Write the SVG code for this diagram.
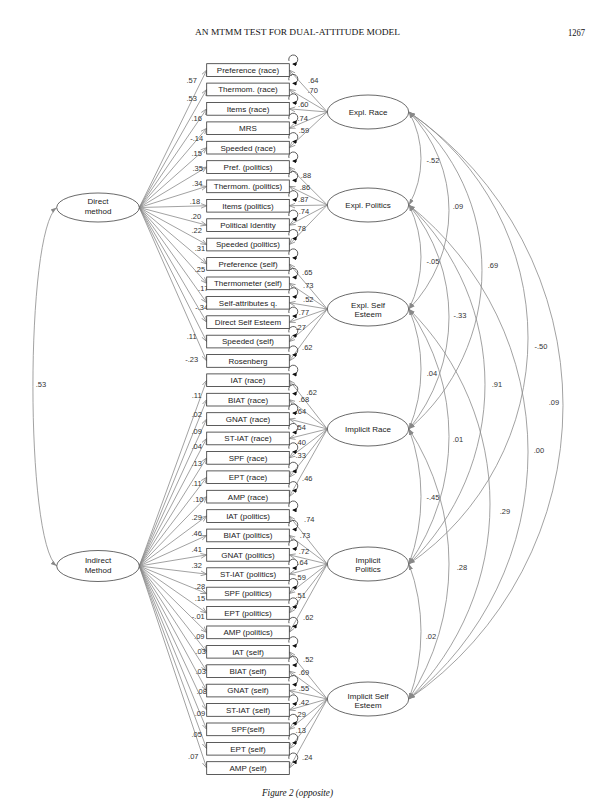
<svg xmlns="http://www.w3.org/2000/svg" xmlns:xlink="http://www.w3.org/1999/xlink" width="616" height="809" viewBox="0 0 616 809">
<style>
.bx{fill:#fff;stroke:#333;stroke-width:0.8}
.el{fill:#fff;stroke:#444;stroke-width:0.8}
.t{font-family:"Liberation Sans",Arial,sans-serif;font-size:8px;fill:#222;text-anchor:middle}
.n{font-family:"Liberation Sans",Arial,sans-serif;font-size:7.5px;fill:#333;text-anchor:middle}
.ld{stroke:#8a8a8a;stroke-width:0.8;fill:none;marker-end:url(#oa)}
.cr{stroke:#8a8a8a;stroke-width:0.8;fill:none;marker-start:url(#fs);marker-end:url(#fe)}
.lp{stroke:#333;stroke-width:0.8;fill:none;marker-end:url(#la)}
.hd{font-family:"Liberation Serif","Times New Roman",serif;fill:#111}
</style>
<defs>
<marker id="oa" viewBox="0 0 10 10" refX="10" refY="5" markerWidth="6" markerHeight="6" markerUnits="userSpaceOnUse" orient="auto"><path d="M0,1 L10,5 L0,9" fill="none" stroke="#888" stroke-width="1.3"/></marker>
<marker id="fe" viewBox="0 0 10 10" refX="10" refY="5" markerWidth="6" markerHeight="6" markerUnits="userSpaceOnUse" orient="auto"><path d="M0,1.5 L10,5 L0,8.5 z" fill="#888"/></marker>
<marker id="fs" viewBox="0 0 10 10" refX="10" refY="5" markerWidth="6" markerHeight="6" markerUnits="userSpaceOnUse" orient="auto-start-reverse"><path d="M0,1.5 L10,5 L0,8.5 z" fill="#888"/></marker>
<marker id="la" viewBox="0 0 10 10" refX="8" refY="5" markerWidth="4.5" markerHeight="4.5" markerUnits="userSpaceOnUse" orient="auto"><path d="M0,0 L10,5 L0,10 z" fill="#111"/></marker>
<path id="loop" class="lp" d="M-4.3,1.4 A4.5,4.5 0 1 1 -0.3,4.5"/>
</defs>

<text class="hd" x="195" y="35" font-size="9" textLength="205" lengthAdjust="spacingAndGlyphs">AN MTMM TEST FOR DUAL-ATTITUDE MODEL</text>
<text class="hd" x="568" y="36" font-size="10.5" textLength="17" lengthAdjust="spacingAndGlyphs">1267</text>
<text class="hd" x="262" y="796" font-size="9.5" font-style="italic" textLength="71" lengthAdjust="spacingAndGlyphs">Figure 2 (opposite)</text>

<g id="connectors">
<!-- method correlation -->
<path class="cr" d="M56.7,207.5 C25,232 25,541 56.7,566"/>
<!-- Direct method loadings -->
<path class="ld" d="M139.3,207.5 L206.7,70.05"/>
<path class="ld" d="M139.3,207.5 L206.7,89.45"/>
<path class="ld" d="M139.3,207.5 L206.7,108.85"/>
<path class="ld" d="M139.3,207.5 L206.7,128.25"/>
<path class="ld" d="M139.3,207.5 L206.7,147.65"/>
<path class="ld" d="M139.3,207.5 L206.7,167.05"/>
<path class="ld" d="M139.3,207.5 L206.7,186.35"/>
<path class="ld" d="M139.3,207.5 L206.7,205.75"/>
<path class="ld" d="M139.3,207.5 L206.7,225.15"/>
<path class="ld" d="M139.3,207.5 L206.7,244.55"/>
<path class="ld" d="M139.3,207.5 L206.7,263.95"/>
<path class="ld" d="M139.3,207.5 L206.7,283.35"/>
<path class="ld" d="M139.3,207.5 L206.7,302.75"/>
<path class="ld" d="M139.3,207.5 L206.7,322.15"/>
<path class="ld" d="M139.3,207.5 L206.7,341.55"/>
<path class="ld" d="M139.3,207.5 L206.7,360.95"/>
<!-- Indirect method loadings -->
<path class="ld" d="M139.3,566 L206.7,380.25"/>
<path class="ld" d="M139.3,566 L206.7,399.65"/>
<path class="ld" d="M139.3,566 L206.7,419.05"/>
<path class="ld" d="M139.3,566 L206.7,438.45"/>
<path class="ld" d="M139.3,566 L206.7,457.85"/>
<path class="ld" d="M139.3,566 L206.7,477.25"/>
<path class="ld" d="M139.3,566 L206.7,496.65"/>
<path class="ld" d="M139.3,566 L206.7,516.05"/>
<path class="ld" d="M139.3,566 L206.7,535.45"/>
<path class="ld" d="M139.3,566 L206.7,554.85"/>
<path class="ld" d="M139.3,566 L206.7,574.15"/>
<path class="ld" d="M139.3,566 L206.7,593.55"/>
<path class="ld" d="M139.3,566 L206.7,612.95"/>
<path class="ld" d="M139.3,566 L206.7,632.35"/>
<path class="ld" d="M139.3,566 L206.7,651.75"/>
<path class="ld" d="M139.3,566 L206.7,671.15"/>
<path class="ld" d="M139.3,566 L206.7,690.55"/>
<path class="ld" d="M139.3,566 L206.7,709.95"/>
<path class="ld" d="M139.3,566 L206.7,729.35"/>
<path class="ld" d="M139.3,566 L206.7,748.75"/>
<path class="ld" d="M139.3,566 L206.7,768.05"/>
<!-- Trait loadings -->
<path class="ld" d="M327.3,112 L289.3,70.05"/>
<path class="ld" d="M327.3,112 L289.3,89.45"/>
<path class="ld" d="M327.3,112 L289.3,108.85"/>
<path class="ld" d="M327.3,112 L289.3,128.25"/>
<path class="ld" d="M327.3,112 L289.3,147.65"/>
<path class="ld" d="M327.3,205 L289.3,167.05"/>
<path class="ld" d="M327.3,205 L289.3,186.35"/>
<path class="ld" d="M327.3,205 L289.3,205.75"/>
<path class="ld" d="M327.3,205 L289.3,225.15"/>
<path class="ld" d="M327.3,205 L289.3,244.55"/>
<path class="ld" d="M327.3,309 L289.3,263.95"/>
<path class="ld" d="M327.3,309 L289.3,283.35"/>
<path class="ld" d="M327.3,309 L289.3,302.75"/>
<path class="ld" d="M327.3,309 L289.3,322.15"/>
<path class="ld" d="M327.3,309 L289.3,341.55"/>
<path class="ld" d="M327.3,309 L289.3,360.95"/>
<path class="ld" d="M327.3,429 L289.3,380.25"/>
<path class="ld" d="M327.3,429 L289.3,399.65"/>
<path class="ld" d="M327.3,429 L289.3,419.05"/>
<path class="ld" d="M327.3,429 L289.3,438.45"/>
<path class="ld" d="M327.3,429 L289.3,457.85"/>
<path class="ld" d="M327.3,429 L289.3,477.25"/>
<path class="ld" d="M327.3,429 L289.3,496.65"/>
<path class="ld" d="M327.3,564 L289.3,516.05"/>
<path class="ld" d="M327.3,564 L289.3,535.45"/>
<path class="ld" d="M327.3,564 L289.3,554.85"/>
<path class="ld" d="M327.3,564 L289.3,574.15"/>
<path class="ld" d="M327.3,564 L289.3,593.55"/>
<path class="ld" d="M327.3,564 L289.3,612.95"/>
<path class="ld" d="M327.3,564 L289.3,632.35"/>
<path class="ld" d="M327.3,699 L289.3,651.75"/>
<path class="ld" d="M327.3,699 L289.3,671.15"/>
<path class="ld" d="M327.3,699 L289.3,690.55"/>
<path class="ld" d="M327.3,699 L289.3,709.95"/>
<path class="ld" d="M327.3,699 L289.3,729.35"/>
<path class="ld" d="M327.3,699 L289.3,748.75"/>
<path class="ld" d="M327.3,699 L289.3,768.05"/>
<!-- Trait correlations -->
<path class="cr" d="M409,112 A96.1,96.1 0 0 1 409,205"/>
<path class="cr" d="M409,205 A118.7,118.7 0 0 1 409,309"/>
<path class="cr" d="M409,309 A156,156 0 0 1 409,429"/>
<path class="cr" d="M409,429 A195.8,195.8 0 0 1 409,564"/>
<path class="cr" d="M409,564 A195.8,195.8 0 0 1 409,699"/>
<path class="cr" d="M409,112 A141.3,141.3 0 0 1 409,309"/>
<path class="cr" d="M409,205 A176.8,176.8 0 0 1 409,429"/>
<path class="cr" d="M409,309 A223.2,223.2 0 0 1 409,564"/>
<path class="cr" d="M409,429 A247.8,247.8 0 0 1 409,699"/>
<path class="cr" d="M409,112 A208.6,208.6 0 0 1 409,429"/>
<path class="cr" d="M409,205 A250,250 0 0 1 409,564"/>
<path class="cr" d="M409,309 A275.2,275.2 0 0 1 409,699"/>
<path class="cr" d="M409,112 A274.1,274.1 0 0 1 409,564"/>
<path class="cr" d="M409,205 A315.8,315.8 0 0 1 409,699"/>
<path class="cr" d="M409,112 A356.7,356.7 0 0 1 409,699"/>
</g>

<g id="connector-labels">
<text class="n" x="41" y="387">.53</text>
<text class="n" x="191.7" y="83">.57</text>
<text class="n" x="191.7" y="101.3">.53</text>
<text class="n" x="196.7" y="120.7">.16</text>
<text class="n" x="196.7" y="141.3">-.14</text>
<text class="n" x="196.7" y="156.3">.15</text>
<text class="n" x="197.7" y="171.3">.35</text>
<text class="n" x="197.3" y="186.3">.34</text>
<text class="n" x="195" y="204">.18</text>
<text class="n" x="196" y="218.7">.20</text>
<text class="n" x="196.7" y="233">.22</text>
<text class="n" x="200" y="251.3">.31</text>
<text class="n" x="200" y="272">.25</text>
<text class="n" x="203.3" y="291.3">.17</text>
<text class="n" x="201.7" y="310.3">-.34</text>
<text class="n" x="191.7" y="339">.11</text>
<text class="n" x="191.7" y="362.3">-.23</text>
<text class="n" x="196.7" y="398">.11</text>
<text class="n" x="196.7" y="417.3">.02</text>
<text class="n" x="196.7" y="433.7">.09</text>
<text class="n" x="196.7" y="448.7">.04</text>
<text class="n" x="196.7" y="465.7">.13</text>
<text class="n" x="196.7" y="485.7">.11</text>
<text class="n" x="198.3" y="502">.10</text>
<text class="n" x="196.7" y="519.5">.29</text>
<text class="n" x="196.7" y="535.7">.46</text>
<text class="n" x="196.7" y="552.3">.41</text>
<text class="n" x="196.7" y="568.3">.32</text>
<text class="n" x="200" y="589">.28</text>
<text class="n" x="200" y="601.3">.15</text>
<text class="n" x="198.3" y="619">-.01</text>
<text class="n" x="199.3" y="639.3">.09</text>
<text class="n" x="200.7" y="653.7">.03</text>
<text class="n" x="200.7" y="674">.03</text>
<text class="n" x="201.7" y="694">.08</text>
<text class="n" x="200" y="716.3">.09</text>
<text class="n" x="196.7" y="737.3">.05</text>
<text class="n" x="193.3" y="758.7">.07</text>

<text class="n" x="313.3" y="83">.64</text>
<text class="n" x="312.7" y="93">.70</text>
<text class="n" x="303.3" y="106.7">.60</text>
<text class="n" x="302.7" y="120.7">.74</text>
<text class="n" x="304" y="133.3">.59</text>
<text class="n" x="306" y="178">.88</text>
<text class="n" x="305" y="189.7">.86</text>
<text class="n" x="303.3" y="202">.87</text>
<text class="n" x="304" y="214">.74</text>
<text class="n" x="300.7" y="231.3">.78</text>
<text class="n" x="307.3" y="275.3">.65</text>
<text class="n" x="308.3" y="287.7">.73</text>
<text class="n" x="308.3" y="302">.52</text>
<text class="n" x="304" y="314.7">.77</text>
<text class="n" x="300.7" y="329.7">.27</text>
<text class="n" x="307.3" y="350.3">.62</text>
<text class="n" x="311.7" y="395.3">.62</text>
<text class="n" x="304" y="402">.68</text>
<text class="n" x="301" y="413.7">.64</text>
<text class="n" x="300.7" y="429.7">.54</text>
<text class="n" x="300.7" y="444.7">.40</text>
<text class="n" x="300.7" y="458">.33</text>
<text class="n" x="307.3" y="481.3">.46</text>
<text class="n" x="309.3" y="522.3">.74</text>
<text class="n" x="305" y="538">.73</text>
<text class="n" x="304" y="553.7">.72</text>
<text class="n" x="302.7" y="564.7">.64</text>
<text class="n" x="300.7" y="579.7">.59</text>
<text class="n" x="300.7" y="598">.51</text>
<text class="n" x="308.3" y="620.3">.62</text>
<text class="n" x="308.3" y="662">.52</text>
<text class="n" x="304" y="674.7">.69</text>
<text class="n" x="304" y="690.7">.55</text>
<text class="n" x="304" y="705.3">.42</text>
<text class="n" x="300.7" y="717.3">.29</text>
<text class="n" x="300.7" y="733">.13</text>
<text class="n" x="307.3" y="759.7">.24</text>

<text class="n" x="433" y="163">-.52</text>
<text class="n" x="458" y="209">.09</text>
<text class="n" x="493" y="268">.69</text>
<text class="n" x="541" y="349">-.50</text>
<text class="n" x="554" y="405" font-size="6">.09</text>
<text class="n" x="433" y="264">-.05</text>
<text class="n" x="460" y="318">-.33</text>
<text class="n" x="497" y="387">.91</text>
<text class="n" x="539" y="453">.00</text>
<text class="n" x="432" y="376">.04</text>
<text class="n" x="458" y="442">.01</text>
<text class="n" x="505" y="514">.29</text>
<text class="n" x="433" y="500">-.45</text>
<text class="n" x="462" y="570">.28</text>
<text class="n" x="431" y="639">.02</text>
</g>

<g id="direct-method"><ellipse class="el" cx="98" cy="207.5" rx="41.3" ry="14.5"/><text class="t" x="98" y="203.5">Direct</text><text class="t" x="98" y="213.5">method</text></g>
<g id="indirect-method"><ellipse class="el" cx="98" cy="566" rx="41.3" ry="15.5"/><text class="t" x="98" y="563">Indirect</text><text class="t" x="98" y="573">Method</text></g>

<g id="expl-race"><ellipse class="el" cx="368" cy="112" rx="40.7" ry="17"/><text class="t" x="368" y="115">Expl. Race</text></g>
<g id="expl-politics"><ellipse class="el" cx="368" cy="205" rx="40.7" ry="17"/><text class="t" x="368" y="208">Expl. Politics</text></g>
<g id="expl-self-esteem"><ellipse class="el" cx="368" cy="309" rx="40.7" ry="17"/><text class="t" x="368" y="308">Expl. Self</text><text class="t" x="368" y="317.3">Esteem</text></g>
<g id="implicit-race"><ellipse class="el" cx="368" cy="429" rx="40.7" ry="17"/><text class="t" x="368" y="432">Implicit Race</text></g>
<g id="implicit-politics"><ellipse class="el" cx="368" cy="564" rx="40.7" ry="17"/><text class="t" x="368" y="563">Implicit</text><text class="t" x="368" y="572.3">Politics</text></g>
<g id="implicit-self-esteem"><ellipse class="el" cx="368" cy="699" rx="40.7" ry="17"/><text class="t" x="368" y="698.7">Implicit Self</text><text class="t" x="368" y="708">Esteem</text></g>

<g id="b0" transform="translate(206.7,63.7)"><rect class="bx" width="82.6" height="12.7"/><text class="t" x="41.3" y="9.3">Preference (race)</text><use href="#loop" x="86.6" y="-4.2"/></g>
<g id="b1" transform="translate(206.7,83.1)"><rect class="bx" width="82.6" height="12.7"/><text class="t" x="41.3" y="9.3">Thermom. (race)</text><use href="#loop" x="86.6" y="-4.2"/></g>
<g id="b2" transform="translate(206.7,102.5)"><rect class="bx" width="82.6" height="12.7"/><text class="t" x="41.3" y="9.3">Items (race)</text><use href="#loop" x="86.6" y="-4.2"/></g>
<g id="b3" transform="translate(206.7,121.9)"><rect class="bx" width="82.6" height="12.7"/><text class="t" x="41.3" y="9.3">MRS</text><use href="#loop" x="86.6" y="-4.2"/></g>
<g id="b4" transform="translate(206.7,141.3)"><rect class="bx" width="82.6" height="12.7"/><text class="t" x="41.3" y="9.3">Speeded (race)</text><use href="#loop" x="86.6" y="-4.2"/></g>
<g id="b5" transform="translate(206.7,160.7)"><rect class="bx" width="82.6" height="12.7"/><text class="t" x="41.3" y="9.3">Pref. (politics)</text><use href="#loop" x="86.6" y="-4.2"/></g>
<g id="b6" transform="translate(206.7,180.0)"><rect class="bx" width="82.6" height="12.7"/><text class="t" x="41.3" y="9.3">Thermom. (politics)</text><use href="#loop" x="86.6" y="-4.2"/></g>
<g id="b7" transform="translate(206.7,199.4)"><rect class="bx" width="82.6" height="12.7"/><text class="t" x="41.3" y="9.3">Items (politics)</text><use href="#loop" x="86.6" y="-4.2"/></g>
<g id="b8" transform="translate(206.7,218.8)"><rect class="bx" width="82.6" height="12.7"/><text class="t" x="41.3" y="9.3">Political Identity</text><use href="#loop" x="86.6" y="-4.2"/></g>
<g id="b9" transform="translate(206.7,238.2)"><rect class="bx" width="82.6" height="12.7"/><text class="t" x="41.3" y="9.3">Speeded (politics)</text><use href="#loop" x="86.6" y="-4.2"/></g>
<g id="b10" transform="translate(206.7,257.6)"><rect class="bx" width="82.6" height="12.7"/><text class="t" x="41.3" y="9.3">Preference (self)</text><use href="#loop" x="86.6" y="-4.2"/></g>
<g id="b11" transform="translate(206.7,277.0)"><rect class="bx" width="82.6" height="12.7"/><text class="t" x="41.3" y="9.3">Thermometer (self)</text><use href="#loop" x="86.6" y="-4.2"/></g>
<g id="b12" transform="translate(206.7,296.4)"><rect class="bx" width="82.6" height="12.7"/><text class="t" x="41.3" y="9.3">Self-attributes q.</text><use href="#loop" x="86.6" y="-4.2"/></g>
<g id="b13" transform="translate(206.7,315.8)"><rect class="bx" width="82.6" height="12.7"/><text class="t" x="41.3" y="9.3">Direct Self Esteem</text><use href="#loop" x="86.6" y="-4.2"/></g>
<g id="b14" transform="translate(206.7,335.2)"><rect class="bx" width="82.6" height="12.7"/><text class="t" x="41.3" y="9.3">Speeded (self)</text><use href="#loop" x="86.6" y="-4.2"/></g>
<g id="b15" transform="translate(206.7,354.6)"><rect class="bx" width="82.6" height="12.7"/><text class="t" x="41.3" y="9.3">Rosenberg</text><use href="#loop" x="86.6" y="-4.2"/></g>
<g id="b16" transform="translate(206.7,373.9)"><rect class="bx" width="82.6" height="12.7"/><text class="t" x="41.3" y="9.3">IAT (race)</text><use href="#loop" x="86.6" y="-4.2"/></g>
<g id="b17" transform="translate(206.7,393.3)"><rect class="bx" width="82.6" height="12.7"/><text class="t" x="41.3" y="9.3">BIAT (race)</text><use href="#loop" x="86.6" y="-4.2"/></g>
<g id="b18" transform="translate(206.7,412.7)"><rect class="bx" width="82.6" height="12.7"/><text class="t" x="41.3" y="9.3">GNAT (race)</text><use href="#loop" x="86.6" y="-4.2"/></g>
<g id="b19" transform="translate(206.7,432.1)"><rect class="bx" width="82.6" height="12.7"/><text class="t" x="41.3" y="9.3">ST-IAT (race)</text><use href="#loop" x="86.6" y="-4.2"/></g>
<g id="b20" transform="translate(206.7,451.5)"><rect class="bx" width="82.6" height="12.7"/><text class="t" x="41.3" y="9.3">SPF (race)</text><use href="#loop" x="86.6" y="-4.2"/></g>
<g id="b21" transform="translate(206.7,470.9)"><rect class="bx" width="82.6" height="12.7"/><text class="t" x="41.3" y="9.3">EPT (race)</text><use href="#loop" x="86.6" y="-4.2"/></g>
<g id="b22" transform="translate(206.7,490.3)"><rect class="bx" width="82.6" height="12.7"/><text class="t" x="41.3" y="9.3">AMP (race)</text><use href="#loop" x="86.6" y="-4.2"/></g>
<g id="b23" transform="translate(206.7,509.7)"><rect class="bx" width="82.6" height="12.7"/><text class="t" x="41.3" y="9.3">IAT (politics)</text><use href="#loop" x="86.6" y="-4.2"/></g>
<g id="b24" transform="translate(206.7,529.1)"><rect class="bx" width="82.6" height="12.7"/><text class="t" x="41.3" y="9.3">BIAT (politics)</text><use href="#loop" x="86.6" y="-4.2"/></g>
<g id="b25" transform="translate(206.7,548.5)"><rect class="bx" width="82.6" height="12.7"/><text class="t" x="41.3" y="9.3">GNAT (politics)</text><use href="#loop" x="86.6" y="-4.2"/></g>
<g id="b26" transform="translate(206.7,567.8)"><rect class="bx" width="82.6" height="12.7"/><text class="t" x="41.3" y="9.3">ST-IAT (politics)</text><use href="#loop" x="86.6" y="-4.2"/></g>
<g id="b27" transform="translate(206.7,587.2)"><rect class="bx" width="82.6" height="12.7"/><text class="t" x="41.3" y="9.3">SPF (politics)</text><use href="#loop" x="86.6" y="-4.2"/></g>
<g id="b28" transform="translate(206.7,606.6)"><rect class="bx" width="82.6" height="12.7"/><text class="t" x="41.3" y="9.3">EPT (politics)</text><use href="#loop" x="86.6" y="-4.2"/></g>
<g id="b29" transform="translate(206.7,626.0)"><rect class="bx" width="82.6" height="12.7"/><text class="t" x="41.3" y="9.3">AMP (politics)</text><use href="#loop" x="86.6" y="-4.2"/></g>
<g id="b30" transform="translate(206.7,645.4)"><rect class="bx" width="82.6" height="12.7"/><text class="t" x="41.3" y="9.3">IAT (self)</text><use href="#loop" x="86.6" y="-4.2"/></g>
<g id="b31" transform="translate(206.7,664.8)"><rect class="bx" width="82.6" height="12.7"/><text class="t" x="41.3" y="9.3">BIAT (self)</text><use href="#loop" x="86.6" y="-4.2"/></g>
<g id="b32" transform="translate(206.7,684.2)"><rect class="bx" width="82.6" height="12.7"/><text class="t" x="41.3" y="9.3">GNAT (self)</text><use href="#loop" x="86.6" y="-4.2"/></g>
<g id="b33" transform="translate(206.7,703.6)"><rect class="bx" width="82.6" height="12.7"/><text class="t" x="41.3" y="9.3">ST-IAT (self)</text><use href="#loop" x="86.6" y="-4.2"/></g>
<g id="b34" transform="translate(206.7,723.0)"><rect class="bx" width="82.6" height="12.7"/><text class="t" x="41.3" y="9.3">SPF(self)</text><use href="#loop" x="86.6" y="-4.2"/></g>
<g id="b35" transform="translate(206.7,742.4)"><rect class="bx" width="82.6" height="12.7"/><text class="t" x="41.3" y="9.3">EPT (self)</text><use href="#loop" x="86.6" y="-4.2"/></g>
<g id="b36" transform="translate(206.7,761.7)"><rect class="bx" width="82.6" height="12.7"/><text class="t" x="41.3" y="9.3">AMP (self)</text><use href="#loop" x="86.6" y="-4.2"/></g>
</svg>
